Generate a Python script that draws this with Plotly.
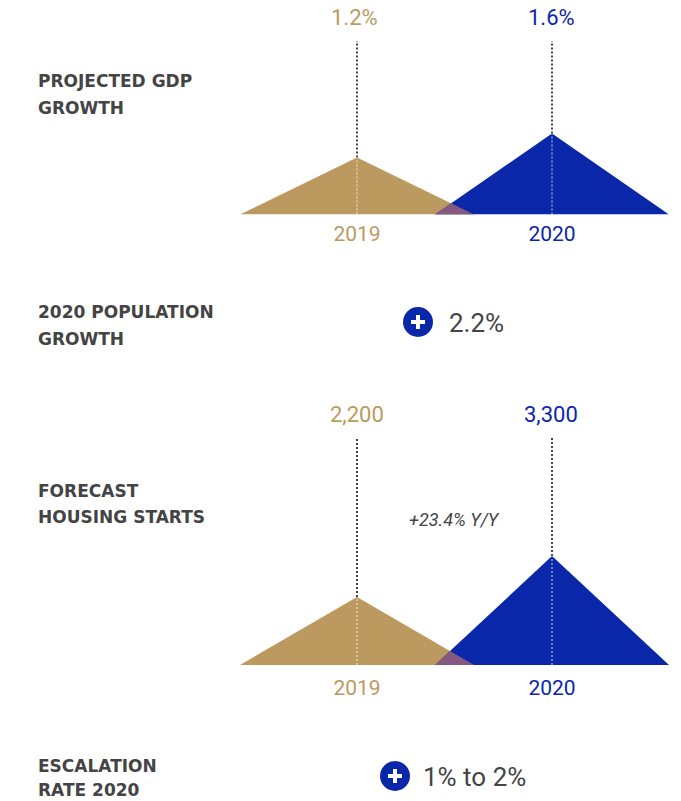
import plotly.graph_objects as go

WIDTH, HEIGHT = 681, 801
TAN, BLUE, BLEND, INK = "#BC9A5F", "#0B27A9", "#85587F", "#444444"

years = [2019, 2020]
gdp_growth = [1.2, 1.6]
gdp_labels = ["1.2%", "1.6%"]
housing_starts = [2200, 3300]
housing_labels = ["2,200", "3,300"]
half_width = 0.6  # half of each triangle's base, in years

section_titles = [
    ("PROJECTED GDP", 81), ("GROWTH", 108),
    ("2020 POPULATION", 312), ("GROWTH", 339),
    ("FORECAST", 491), ("HOUSING STARTS", 517),
    ("ESCALATION", 766), ("RATE 2020", 790),
]
callouts = [("2.2%", 418, 322, 447), ("1% to 2%", 395, 776, 421)]


def py(pixel):
    return 1 - pixel / HEIGHT


def px(pixel):
    return pixel / WIDTH


def add_triangles(fig, values, labels, floor, ceiling, xa, ya, nudges):
    (x0, x1), (v0, v1) = years, values
    left_end, right_start = x0 + half_width, x1 - half_width
    # Where the falling edge of the first triangle meets the rising edge of the second
    fall = (v0 - floor) / half_width
    rise = (v1 - floor) / half_width
    xi = (fall * left_end + rise * right_start) / (fall + rise)
    yi = floor + rise * (xi - right_start)

    def poly(xs, ys, colour):
        fig.add_trace(go.Scatter(x=xs, y=ys, mode="lines", fill="toself", fillcolor=colour,
                                 line=dict(width=0), hoverinfo="skip", xaxis=xa, yaxis=ya))

    poly([x0 - half_width, x0, left_end, x0 - half_width], [floor, v0, floor, floor], TAN)
    poly([right_start, x1, x1 + half_width, right_start], [floor, v1, floor, floor], BLUE)
    poly([right_start, xi, left_end, right_start], [floor, yi, floor, floor], BLEND)

    for x, v in zip(years, values):
        fig.add_trace(go.Scatter(x=[x, x], y=[v, ceiling], mode="lines", hoverinfo="skip",
                                 line=dict(color="#444444", width=2, dash="2px,2px"),
                                 xaxis=xa, yaxis=ya))
        fig.add_trace(go.Scatter(x=[x, x], y=[floor, v], mode="lines", hoverinfo="skip",
                                 line=dict(color="rgba(255,255,255,0.4)", width=2, dash="2px,2px"),
                                 xaxis=xa, yaxis=ya))

    for x, text, colour, nudge in zip(years, labels, [TAN, BLUE], nudges):
        fig.add_annotation(x=x, y=ceiling, xref=xa, yref=ya, text=text, showarrow=False,
                           xanchor="center", yanchor="middle", yshift=24, xshift=nudge,
                           font=dict(family="Roboto", size=22, color=colour))


fig = go.Figure()
add_triangles(fig, gdp_growth, gdp_labels, 0.25, 3.14, "x", "y", [-3, -1])
add_triangles(fig, housing_starts, housing_labels, 376, 6467, "x2", "y2", [0, -1])

# Plus badges sit on a pixel-aligned overlay axis
for text, cx, cy, text_x in callouts:
    fig.add_trace(go.Scatter(x=[cx], y=[cy], mode="markers", hoverinfo="skip", xaxis="x3", yaxis="y3",
                             marker=dict(size=30, color=BLUE, line=dict(width=0))))
    fig.add_trace(go.Scatter(x=[cx], y=[cy], mode="markers", hoverinfo="skip", xaxis="x3", yaxis="y3",
                             marker=dict(size=10, symbol="cross-thin", line=dict(width=4, color="white"))))
    fig.add_annotation(x=px(text_x), y=py(cy + 1), xref="paper", yref="paper", text=text, showarrow=False,
                       xanchor="left", yanchor="middle", font=dict(family="Roboto", size=26, color=INK))

for text, y in section_titles:
    fig.add_annotation(x=px(36), y=py(y), xref="paper", yref="paper", text=text, showarrow=False,
                       xanchor="left", yanchor="middle",
                       font=dict(family="DejaVu Sans", size=17, color=INK, weight="bold"))

fig.add_annotation(x=px(454), y=py(519), xref="paper", yref="paper", text="+23.4% Y/Y", showarrow=False,
                   xanchor="center", yanchor="middle",
                   font=dict(family="Roboto", size=18, color=INK, style="italic"))

tick_text = [f'<span style="color:{c}">{y}</span>' for y, c in zip(years, [TAN, BLUE])]
x_common = dict(range=[years[0] - half_width, years[1] + half_width], domain=[px(240), px(669)],
                tickvals=years, ticktext=tick_text, showgrid=False, zeroline=False, showline=False,
                ticks="", tickfont=dict(family="Roboto", size=21), fixedrange=True)
y_common = dict(visible=False, fixedrange=True)

fig.update_layout(
    width=WIDTH, height=HEIGHT, margin=dict(l=0, r=0, t=0, b=0), showlegend=False,
    paper_bgcolor="white", plot_bgcolor="rgba(0,0,0,0)",
    xaxis=dict(**x_common, anchor="y", ticklabelstandoff=4),
    yaxis=dict(**y_common, range=[0.25, 3.14], domain=[py(214.5), py(41)]),
    xaxis2=dict(**x_common, anchor="y2", ticklabelstandoff=8),
    yaxis2=dict(**y_common, range=[376, 6467], domain=[py(665), py(438)]),
    xaxis3=dict(range=[0, WIDTH], domain=[0, 1], visible=False, anchor="y3", fixedrange=True),
    yaxis3=dict(range=[HEIGHT, 0], domain=[0, 1], visible=False, anchor="x3", fixedrange=True),
)

fig.write_html("out.html", config={"displayModeBar": False})
